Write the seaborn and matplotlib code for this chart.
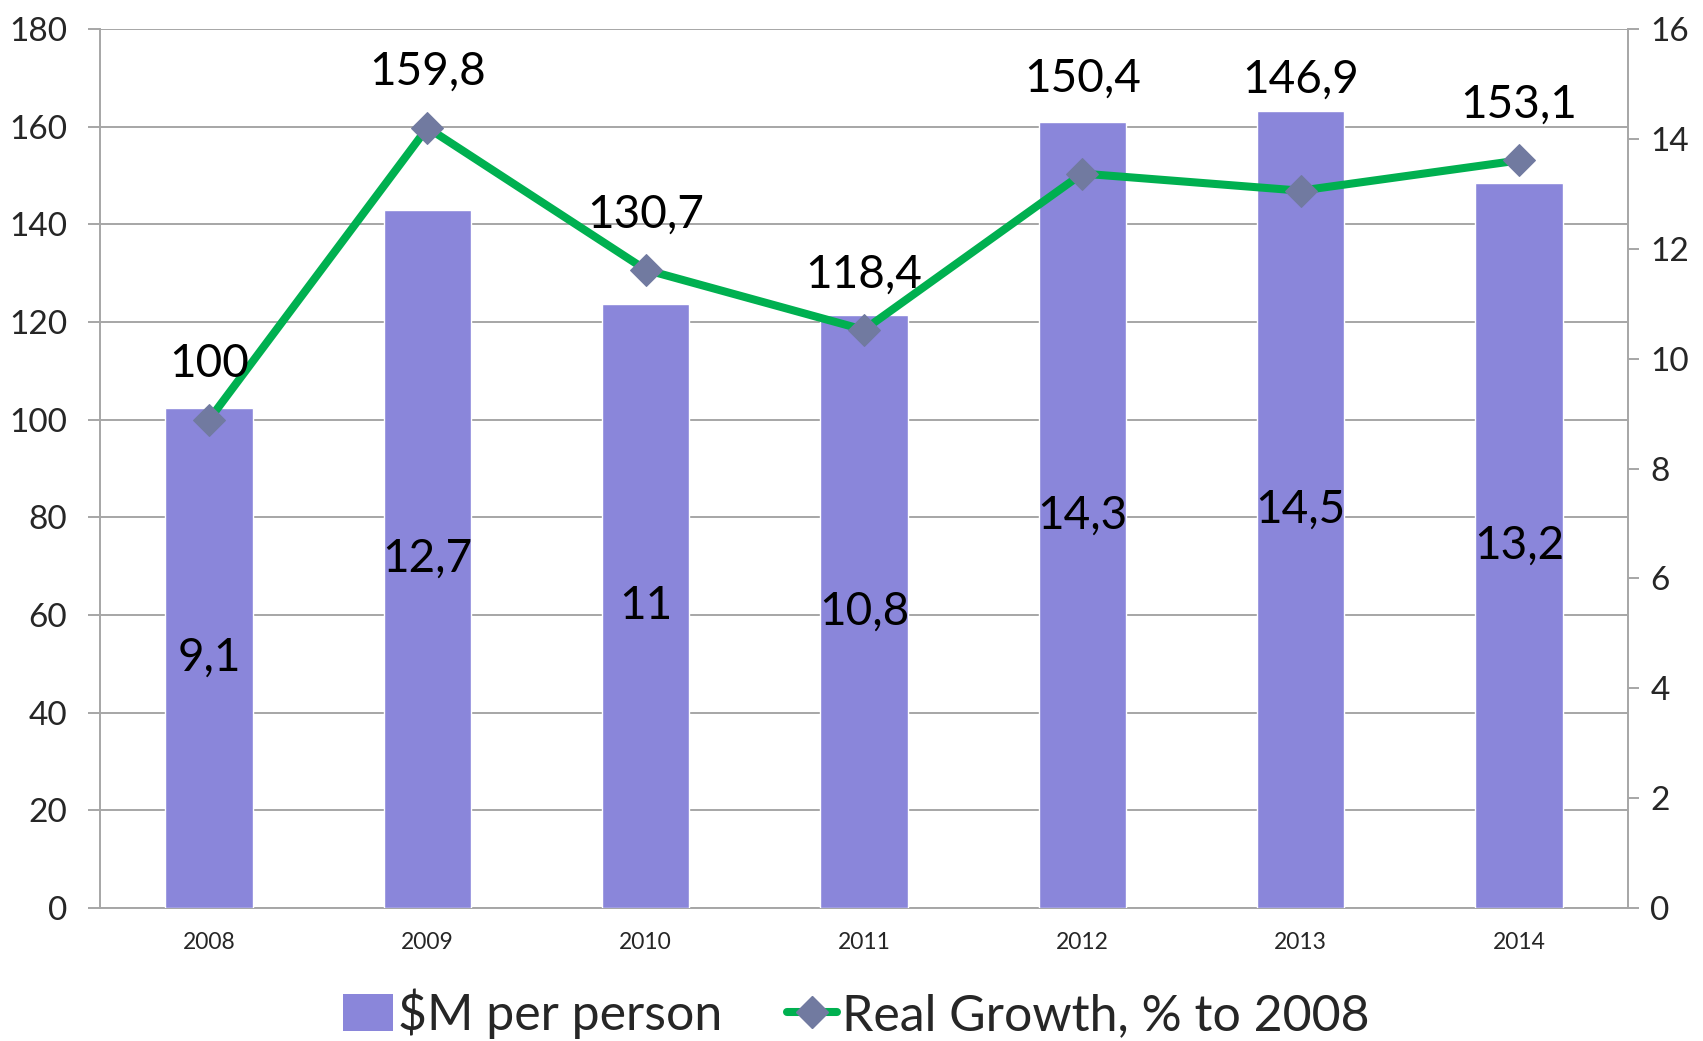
import matplotlib
matplotlib.use("Agg")
import matplotlib.pyplot as plt
import seaborn as sns
import pandas as pd
from matplotlib.patches import Patch
from matplotlib.lines import Line2D

# ---- data ----
years = ["2008", "2009", "2010", "2011", "2012", "2013", "2014"]
per_person = [9.1, 12.7, 11, 10.8, 14.3, 14.5, 13.2]          # right axis (bars)
real_growth = [100, 159.8, 130.7, 118.4, 150.4, 146.9, 153.1]  # left axis (line)
left_ticks = [0, 20, 40, 60, 80, 100, 120, 140, 160, 180]
right_ticks = [0, 2, 4, 6, 8, 10, 12, 14, 16]
bar_name = "$M per person"
line_name = "Real Growth, % to 2008"

# ---- style ----
BAR_COLOR = "#8A86DA"
LINE_COLOR = "#00B050"
MARKER_COLOR = "#717AA0"
GRID_COLOR = "#A6A6A6"
FONT = ["Lato", "DejaVu Sans"]
# vertical offset (points) of each line label above its marker
label_offsets = [40, 40, 40, 40, 68, 80, 40]

sns.set_style("white")
plt.rcParams["font.family"] = FONT

df = pd.DataFrame({"year": years, "per_person": per_person, "growth": real_growth})

fig = plt.figure(figsize=(17.03, 10.41), dpi=100)
ax = fig.add_axes([0.0587, 0.1278, 0.8973, 0.8443])
ax2 = ax.twinx()
ax3 = ax.twinx()

# bars on right scale
sns.barplot(data=df, x="year", y="per_person", color=BAR_COLOR, saturation=1,
            width=0.4, ax=ax2, zorder=2)
ax2.set_ylim(0, 16)
ax2.set_yticks(right_ticks)
ax2.set_yticklabels([str(t) for t in right_ticks])
ax2.set_ylabel("")
ax2.set_xlabel("")
ax2.bar_label(ax2.containers[0],
              labels=[f"{v:g}".replace(".", ",") for v in per_person],
              label_type="center", fontsize=33, color="black")

# line on left scale
sns.lineplot(data=df, x="year", y="growth", color=LINE_COLOR, linewidth=5.8,
             marker="D", markersize=16, markerfacecolor=MARKER_COLOR,
             markeredgecolor=MARKER_COLOR, sort=False, ax=ax3, zorder=3)
ax3.set_ylim(0, 180)
ax3.yaxis.set_visible(False)
ax3.set_ylabel("")
ax3.set_xlabel("")
for x, v, off in zip(years, real_growth, label_offsets):
    ax3.annotate(f"{v:g}".replace(".", ","), (x, v), xytext=(0, off),
                 textcoords="offset points", ha="center", va="center",
                 fontsize=33, color="black")

# left axis with grid
ax.set_ylim(0, 180)
ax.set_yticks(left_ticks)
ax.set_yticklabels([str(t) for t in left_ticks])
ax.grid(axis="y", color=GRID_COLOR, linewidth=1.4)
ax.grid(axis="x", visible=False)
ax.set_axisbelow(True)

# x axis
ax.set_xlim(-0.5, len(years) - 0.5)
ax.set_xticks(range(len(years)))
ax.set_xticklabels(years, fontsize=16.5)
ax.set_xticks([i - 0.5 for i in range(len(years) + 1)], minor=True)
ax.tick_params(axis="x", which="major", length=0, pad=17)
ax.tick_params(axis="x", which="minor", length=8, width=1.4, color=GRID_COLOR, direction="out")
ax.tick_params(axis="y", which="major", length=8.5, width=1.4, color=GRID_COLOR,
               direction="out", pad=15, labelsize=24)
ax2.tick_params(axis="y", which="major", length=8, width=1.4, color=GRID_COLOR,
                direction="out", pad=8, labelsize=24)

# spines
for s in ax.spines.values():
    s.set_color(GRID_COLOR)
    s.set_linewidth(1.4)
ax.spines["top"].set_visible(False)
ax.spines["right"].set_visible(False)
for name, s in ax2.spines.items():
    s.set_visible(name == "right")
    s.set_color(GRID_COLOR)
    s.set_linewidth(1.4)
for s in ax3.spines.values():
    s.set_visible(False)

# legend
handles = [
    Patch(facecolor=BAR_COLOR, edgecolor="none"),
    Line2D([0], [0], color=LINE_COLOR, linewidth=5.8, marker="D", markersize=16,
           markerfacecolor=MARKER_COLOR, markeredgecolor=MARKER_COLOR),
]
fig.legend(handles, [bar_name, line_name], loc="center", bbox_to_anchor=(0.503, 0.026),
           ncol=2, frameon=False, fontsize=36, handlelength=1.0, handleheight=0.75,
           handletextpad=0.1, columnspacing=1.3)

fig.savefig("out.png", dpi=100)
